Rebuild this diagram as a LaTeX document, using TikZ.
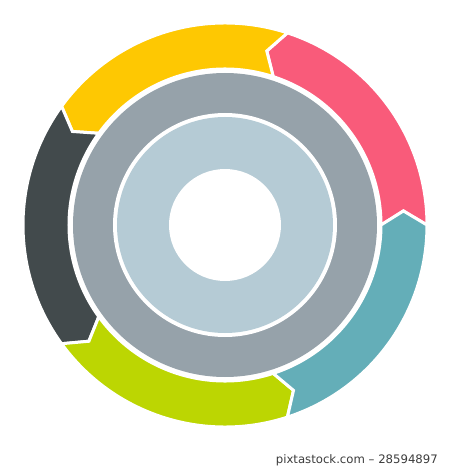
\documentclass[tikz,border=0pt]{standalone}
\usepackage{fontspec}
\newfontfamily\markfont{DejaVu Sans}
\definecolor{segyellow}{RGB}{254,200,2}
\definecolor{segpink}{RGB}{249,91,122}
\definecolor{segteal}{RGB}{100,174,184}
\definecolor{seggreen}{RGB}{188,214,2}
\definecolor{segdark}{RGB}{66,74,76}
\definecolor{ringgray}{RGB}{150,162,170}
\definecolor{ringblue}{RGB}{181,203,213}
\definecolor{marktext}{RGB}{60,60,60}

\begin{document}
\begin{tikzpicture}[x=1pt,y=1pt,
  seg/.style={fill=#1,draw=white,line width=3pt,line join=miter}]
\useasboundingbox (-225,-244) rectangle (225,225);
% five arrow segments, heads pointing counterclockwise
\foreach \a/\c in {0/segpink,72/segyellow,144/segdark,216/seggreen,288/segteal}{
  \draw[seg=\c] (\a:202) arc[start angle=\a,end angle=\a+72,radius=202]
    -- (\a+76.5:179) -- (\a+72:156)
    arc[start angle=\a+72,end angle=\a,radius=156]
    -- (\a+4.5:179) -- cycle;
}
% inner rings
\fill[ringgray] (0,0) circle[radius=152];
\fill[white] (0,0) circle[radius=112];
\fill[ringblue] (0,0) circle[radius=108];
\fill[white] (0,0) circle[radius=56];
\node[anchor=base east,inner sep=0pt,text=marktext,font=\markfont\fontsize{11.7}{13}\selectfont] (mark) at (213,-238) {pixtastock.com – 28594897};
\end{tikzpicture}
\end{document}
